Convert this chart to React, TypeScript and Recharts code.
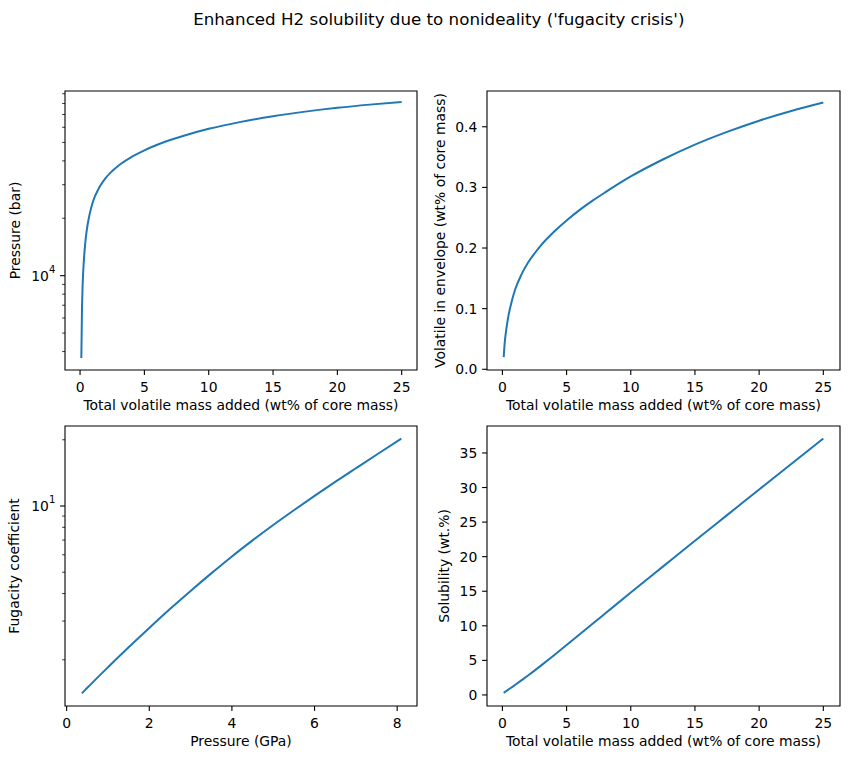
import React from 'react';
import { LineChart, Line, XAxis, YAxis, ReferenceArea, Label } from 'recharts';

// total volatile mass added (wt% of core mass)
const volatileAdded = [0.1, 0.15, 0.2, 0.3, 0.4, 0.5, 0.75, 1, 1.5, 2, 2.5, 3, 4, 5, 6, 7, 8, 10, 12.5, 15, 17.5, 20, 22.5, 25];
const pressureBar = [3700, 6600, 8900, 12100, 14700, 16900, 21100, 24440, 29070, 32590, 35370, 37870, 41940, 45460, 48610, 51430, 54020, 58890, 64070, 68610, 72500, 75930, 78890, 81480];
const envelopeWt = [0.02, 0.0356, 0.048, 0.0653, 0.0794, 0.0913, 0.114, 0.132, 0.157, 0.176, 0.191, 0.2045, 0.2265, 0.2455, 0.2625, 0.2777, 0.2917, 0.318, 0.346, 0.3705, 0.3915, 0.41, 0.426, 0.44];
const solubilityWt = [0.3, 0.37, 0.43, 0.56, 0.69, 0.82, 1.14, 1.47, 2.14, 2.82, 3.52, 4.24, 5.71, 7.21, 8.73, 10.25, 11.77, 14.81, 18.56, 22.31, 26.01, 29.71, 33.41, 37.1];

const pressureGPa = [0.37, 0.5, 0.75, 1, 1.5, 2, 2.5, 3, 3.5, 4, 4.5, 5, 5.5, 6, 6.5, 7, 7.5, 8.1];
const fugacityCoeff = [1.41, 1.492, 1.663, 1.849, 2.279, 2.79, 3.4, 4.11, 4.94, 5.9, 6.98, 8.2, 9.57, 11.12, 12.87, 14.84, 17.1, 20.23];

const massTicks = [0, 5, 10, 15, 20, 25];
const gpaTicks = [0, 2, 4, 6, 8];
const pressureTicks = [4000, 5000, 6000, 7000, 8000, 9000, 10000, 20000, 30000, 40000, 50000, 60000, 70000, 80000, 90000];
const envelopeTicks = [0, 0.1, 0.2, 0.3, 0.4];
const fugacityTicks = [2, 3, 4, 5, 6, 7, 8, 9, 10, 20];
const solubilityTicks = [0, 5, 10, 15, 20, 25, 30, 35];

const BLUE = '#1f77b4';
const FONT = '"DejaVu Sans", sans-serif';
const FS = 13.9;
const TS = 5;
const TM = 5;

const pow10 = (e: string) => (
  <>
    10<tspan dy={-7.5} fontSize={10}>{e}</tspan>
  </>
);

const makeYTick = (isMajor: (v: number) => boolean, fmt: (v: number) => React.ReactNode) => (props: any) => {
  const { x, y, payload } = props;
  const ax = x + TS + TM;
  const major = isMajor(payload.value);
  const len = major ? 4.9 : 2.8;
  return (
    <g>
      <line x1={ax - len} x2={ax} y1={y} y2={y} stroke="#000" strokeWidth={major ? 1.1 : 0.8} />
      {major && (
        <text x={ax - 9.7} y={y + 5} textAnchor="end" fontSize={FS} fill="#000" fontFamily={FONT}>
          {fmt(payload.value)}
        </text>
      )}
    </g>
  );
};

const XTick = (props: any) => {
  const { x, y, payload } = props;
  const ay = y - TS - TM;
  return (
    <g>
      <line x1={x} x2={x} y1={ay} y2={ay + 4.9} stroke="#000" strokeWidth={1.1} />
      <text x={x} y={ay + 21.7} textAnchor="middle" fontSize={FS} fill="#000" fontFamily={FONT}>
        {payload.value}
      </text>
    </g>
  );
};

type PanelProps = {
  left: number;
  top: number;
  height: number;
  margin: { top: number; right: number; bottom: number; left: number };
  xs: number[];
  ys: number[];
  xDomain: [number, number];
  xTicks: number[];
  yDomain: [number, number];
  yTicks: number[];
  yLog?: boolean;
  yMajor: (v: number) => boolean;
  yFmt: (v: number) => React.ReactNode;
  xLabel: string;
  yLabel: string;
  yLabelOffset: number;
};

const Panel = (p: PanelProps) => {
  const data = p.xs.map((x, i) => ({ x, y: p.ys[i] }));
  return (
    <div style={{ position: 'absolute', left: p.left, top: p.top }}>
      <LineChart width={427} height={p.height} data={data} margin={p.margin}>
        <XAxis
          type="number"
          dataKey="x"
          domain={p.xDomain}
          ticks={p.xTicks}
          allowDataOverflow
          interval={0}
          height={45}
          tickSize={TS}
          tickMargin={TM}
          tickLine={false}
          axisLine={false}
          tick={XTick}
        >
          <Label value={p.xLabel} position="insideBottom" offset={5} fill="#000" fontSize={FS} fontFamily={FONT} />
        </XAxis>
        <YAxis
          type="number"
          dataKey="y"
          scale={p.yLog ? 'log' : 'linear'}
          domain={p.yDomain}
          ticks={p.yTicks}
          allowDataOverflow
          interval={0}
          width={65}
          tickSize={TS}
          tickMargin={TM}
          tickLine={false}
          axisLine={false}
          tick={makeYTick(p.yMajor, p.yFmt)}
        >
          <Label
            value={p.yLabel}
            angle={-90}
            position="insideLeft"
            offset={p.yLabelOffset}
            fill="#000"
            fontSize={FS}
            fontFamily={FONT}
            style={{ textAnchor: 'middle' }}
          />
        </YAxis>
        <Line type="monotone" dataKey="y" stroke={BLUE} strokeWidth={2} dot={false} isAnimationActive={false} />
        <ReferenceArea
          x1={p.xDomain[0]}
          x2={p.xDomain[1]}
          y1={p.yDomain[0]}
          y2={p.yDomain[1]}
          fill="none"
          stroke="#000"
          strokeWidth={1.1}
          ifOverflow="visible"
        />
      </LineChart>
    </div>
  );
};

const MASS_LABEL = 'Total volatile mass added (wt% of core mass)';

export default function App() {
  return (
    <div style={{ position: 'absolute', left: 0, top: 0, width: 849, height: 759, background: '#fff', fontFamily: FONT }}>
      <div
        style={{
          position: 'absolute',
          left: 0,
          top: 9,
          width: 877.6,
          textAlign: 'center',
          fontSize: 16.7,
          lineHeight: '20px',
          color: '#000',
        }}
      >
        Enhanced H2 solubility due to nonideality ('fugacity crisis')
      </div>
      <Panel
        left={0}
        top={80}
        height={340}
        margin={{ top: 11, right: 10, bottom: 5, left: 0 }}
        xs={volatileAdded}
        ys={pressureBar}
        xDomain={[-1.17, 26.19]}
        xTicks={massTicks}
        yDomain={[3202, 93000]}
        yTicks={pressureTicks}
        yLog
        yMajor={(v) => v === 10000}
        yFmt={() => pow10('4')}
        xLabel={MASS_LABEL}
        yLabel="Pressure (bar)"
        yLabelOffset={15}
      />
      <Panel
        left={422}
        top={80}
        height={340}
        margin={{ top: 11, right: 9, bottom: 5, left: 0 }}
        xs={volatileAdded}
        ys={envelopeWt}
        xDomain={[-1.2, 26.3]}
        xTicks={massTicks}
        yDomain={[-0.0012, 0.459]}
        yTicks={envelopeTicks}
        yMajor={() => true}
        yFmt={(v) => v.toFixed(1)}
        xLabel={MASS_LABEL}
        yLabel="Volatile in envelope (wt% of core mass)"
        yLabelOffset={18.5}
      />
      <Panel
        left={0}
        top={420}
        height={339}
        margin={{ top: 6, right: 10, bottom: 8, left: 0 }}
        xs={pressureGPa}
        ys={fugacityCoeff}
        xDomain={[-0.04, 8.48]}
        xTicks={gpaTicks}
        yDomain={[1.233, 23.1]}
        yTicks={fugacityTicks}
        yLog
        yMajor={(v) => v === 10}
        yFmt={() => pow10('1')}
        xLabel="Pressure (GPa)"
        yLabel="Fugacity coefficient"
        yLabelOffset={14.5}
      />
      <Panel
        left={422}
        top={420}
        height={339}
        margin={{ top: 6, right: 9, bottom: 8, left: 0 }}
        xs={volatileAdded}
        ys={solubilityWt}
        xDomain={[-1.2, 26.3]}
        xTicks={massTicks}
        yDomain={[-1.6, 38.9]}
        yTicks={solubilityTicks}
        yMajor={() => true}
        yFmt={(v) => String(v)}
        xLabel={MASS_LABEL}
        yLabel="Solubility (wt.%)"
        yLabelOffset={22.5}
      />
    </div>
  );
}
